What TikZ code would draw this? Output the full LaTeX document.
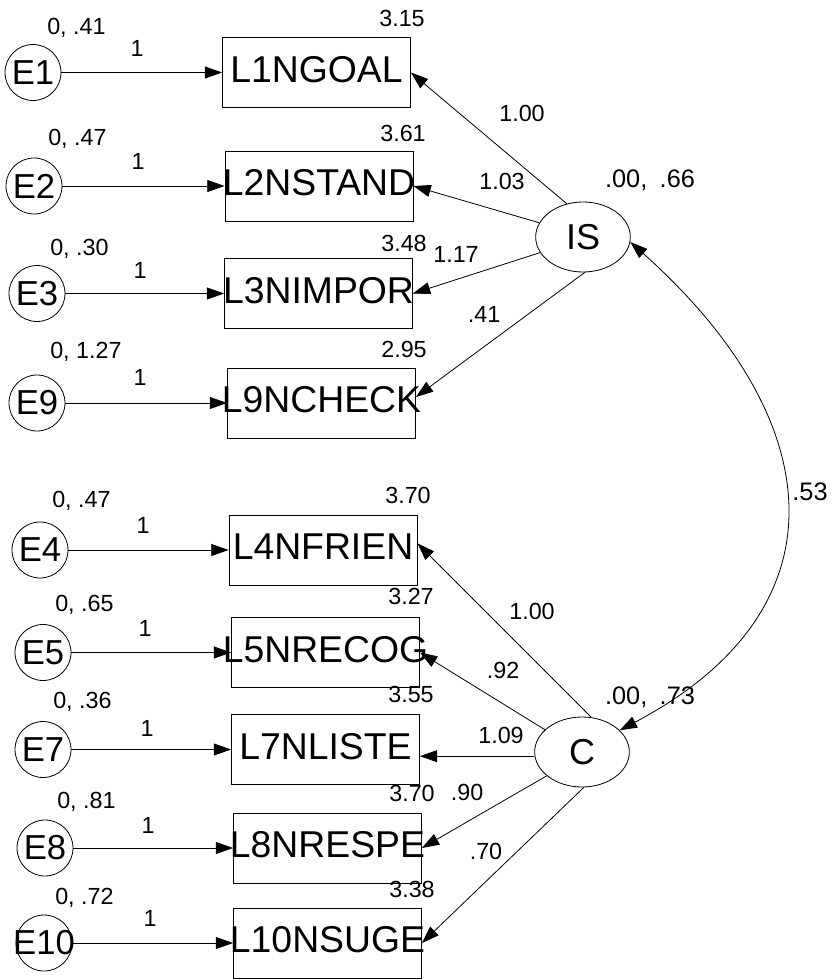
\documentclass[tikz,border=0pt]{standalone}
\usepackage{fontspec}
\setmainfont{Liberation Sans}
\usetikzlibrary{arrows.meta,shapes.geometric}
\begin{document}
\begin{tikzpicture}[x=0.75pt,y=-0.75pt,
  >={Triangle[length=13pt,width=9pt]},
  obs/.style={draw, rectangle, line width=0.6pt, minimum width=141pt, minimum height=52.5pt,
    inner sep=0pt},
  obstext/.style={inner sep=0pt, text depth=5pt, font=\fontsize{28}{28}\selectfont},
  err/.style={draw, circle, line width=0.6pt, minimum size=42pt, inner sep=0pt},
  errtext/.style={inner sep=0pt, font=\fontsize{26}{26}\selectfont},
  lat/.style={draw, ellipse, line width=0.6pt, minimum width=71pt, minimum height=52.5pt,
    inner sep=0pt, font=\fontsize{27}{27}\selectfont},
  lbl/.style={inner sep=0pt, font=\fontsize{17.5}{17.5}\selectfont},
  fac/.style={inner sep=0pt, font=\fontsize{19}{19}\selectfont},
  load/.style={->, line width=0.6pt},
  cov/.style={<->, line width=0.6pt},
]
\useasboundingbox (0,0) rectangle (832,980);

% observed indicators
\node[obs, label={[obstext]center:L1NGOAL}]  (L1)  at (316.5,72.5)  {};
\node[obs, label={[obstext]center:L2NSTAND}] (L2)  at (319,186)     {};
\node[obs, label={[obstext]center:L3NIMPOR}] (L3)  at (318.5,293.5) {};
\node[obs, label={[obstext]center:L9NCHECK}] (L9)  at (321.5,403)   {};
\node[obs, label={[obstext]center:L4NFRIEN}] (L4)  at (323,550)     {};
\node[obs, label={[obstext]center:L5NRECOG}] (L5)  at (325.5,652.5) {};
\node[obs, label={[obstext]center:L7NLISTE}] (L7)  at (325.5,749.5) {};
\node[obs, label={[obstext]center:L8NRESPE}] (L8)  at (327.5,848)   {};
\node[obs, label={[obstext]center:L10NSUGE}] (L10) at (327.5,943)   {};

% error terms
\node[err, label={[errtext]center:E1}]  (E1)  at (33,72.5)  {};
\node[err, label={[errtext]center:E2}]  (E2)  at (34,186)   {};
\node[err, label={[errtext]center:E3}]  (E3)  at (37,293.5) {};
\node[err, label={[errtext]center:E9}]  (E9)  at (37,403)   {};
\node[err, label={[errtext]center:E4}]  (E4)  at (40,550)   {};
\node[err, label={[errtext]center:E5}]  (E5)  at (43,652.5) {};
\node[err, label={[errtext]center:E7}]  (E7)  at (43,749.5) {};
\node[err, label={[errtext]center:E8}]  (E8)  at (45,848)   {};
\node[err, label={[errtext]center:E10}] (E10) at (44,943)   {};

% latent factors
\node[lat] (IS) at (583,237) {IS};
\node[lat] (C)  at (582,752) {C};

% error paths
\foreach \e/\l in {E1/L1,E2/L2,E3/L3,E9/L9,E4/L4,E5/L5,E7/L7,E8/L8,E10/L10}
  \draw[load] (\e) -- (\e -| \l.west);

% loadings of IS
\draw[load] (IS.116) -- (L1.east);
\draw[load] (IS.162) -- (L2.east);
\draw[load] (IS.200) -- (L3.east);
\draw[load] (IS.273) -- ([yshift=4.5pt]L9.east);

% loadings of C
\coordinate (t7) at ([yshift=-5pt]L7.east);
\draw[load] (C.75)  -- ([yshift=5pt]L4.east);
\draw[load] (C.149) -- (L5.east);
\draw[load] (t7 -| C.west) -- (t7);
\draw[load] (C.214) -- (L8.east);
\draw[load] (C.273) -- (L10.east);

% factor covariance
\draw[cov] (IS.354) .. controls (830,420) and (848,610) .. (C.30);

% error means and variances
\node[lbl, anchor=west] at (47,28)  {0, .41};
\node[lbl, anchor=west] at (48,139) {0, .47};
\node[lbl, anchor=west] at (50,249) {0, .30};
\node[lbl, anchor=west] at (50,352) {0, 1.27};
\node[lbl, anchor=west] at (52,501) {0, .47};
\node[lbl, anchor=west] at (55,605) {0, .65};
\node[lbl, anchor=west] at (53,702) {0, .36};
\node[lbl, anchor=west] at (57,802) {0, .81};
\node[lbl, anchor=west] at (55,898) {0, .72};

% fixed error weights
\node[lbl] at (137,48)  {1};
\node[lbl] at (138,161) {1};
\node[lbl] at (140,270) {1};
\node[lbl] at (140,377) {1};
\node[lbl] at (143,525) {1};
\node[lbl] at (145,628) {1};
\node[lbl] at (147,728) {1};
\node[lbl] at (148,825) {1};
\node[lbl] at (150,918) {1};

% intercepts
\node[lbl] at (402,18)  {3.15};
\node[lbl] at (403,133) {3.61};
\node[lbl] at (404,243) {3.48};
\node[lbl] at (404,349) {2.95};
\node[lbl] at (408,495) {3.70};
\node[lbl] at (411,596) {3.27};
\node[lbl] at (411,694) {3.55};
\node[lbl] at (412,793) {3.70};
\node[lbl] at (412,889) {3.38};

% factor means and variances
\node[fac] at (650,180) {.00,\hspace{4pt} .66};
\node[fac] at (650,697) {.00,\hspace{4pt} .73};

% loading estimates
\node[lbl] at (522,113) {1.00};
\node[lbl] at (502,181) {1.03};
\node[lbl] at (456,254) {1.17};
\node[lbl] at (484,314) {.41};
\node[lbl] at (532,611) {1.00};
\node[lbl] at (503,670) {.92};
\node[lbl] at (501,735) {1.09};
\node[lbl] at (467,792) {.90};
\node[lbl] at (486,851) {.70};

% covariance estimate
\node[fac] at (810,492) {.53};
\end{tikzpicture}
\end{document}
